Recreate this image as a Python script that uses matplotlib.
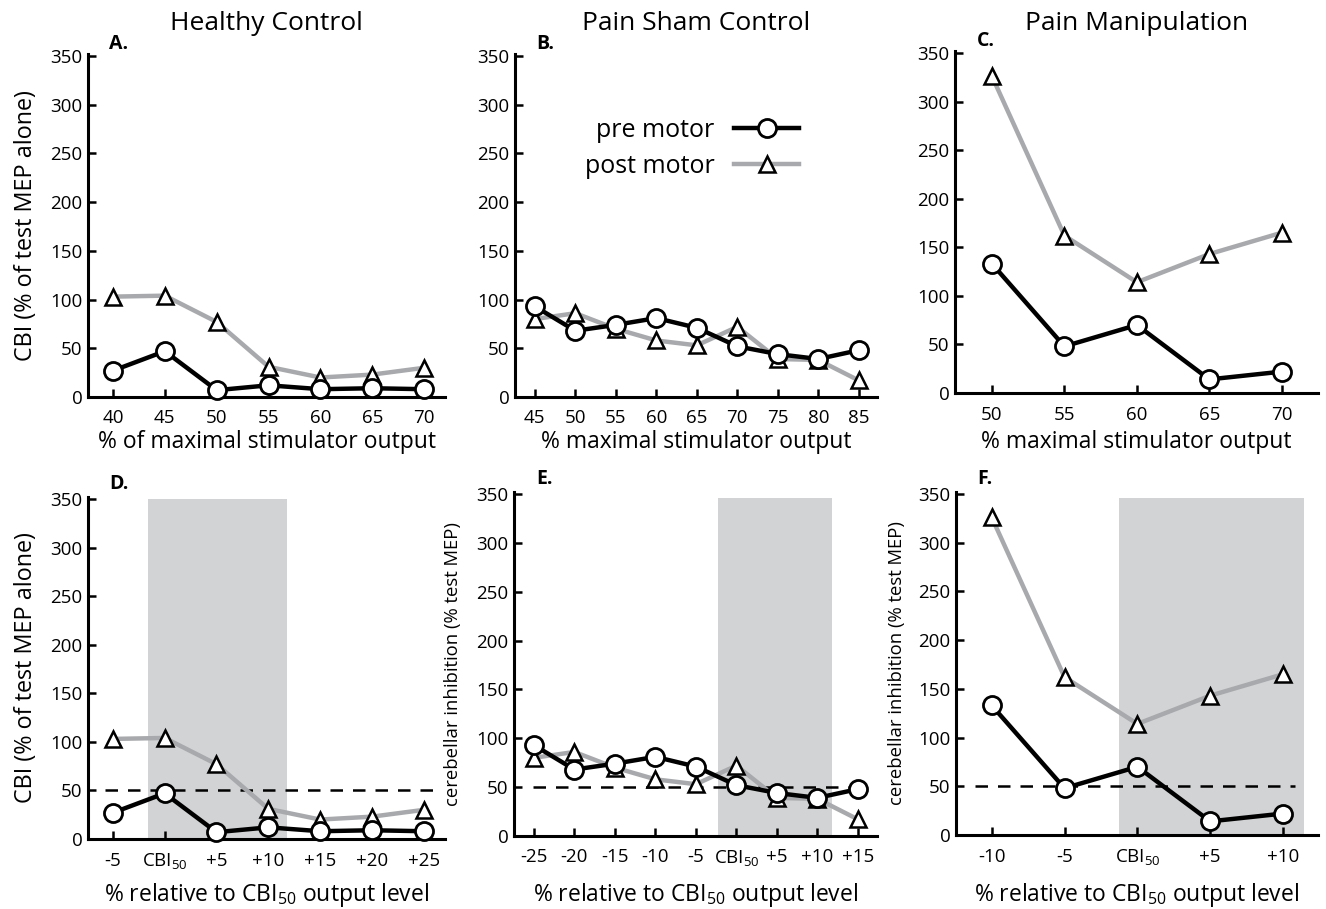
import matplotlib
matplotlib.use('Agg')
import matplotlib.pyplot as plt
from matplotlib.lines import Line2D

plt.rcParams['font.family'] = ['Open Sans', 'DejaVu Sans']
plt.rcParams['mathtext.fontset'] = 'custom'
plt.rcParams['mathtext.rm'] = 'Open Sans'

# ---- data ----
titles = ['Healthy Control', 'Pain Sham Control', 'Pain Manipulation']

hc_x = [40, 45, 50, 55, 60, 65, 70]
hc_pre = [27, 47, 7, 12, 8, 9, 8]
hc_post = [103, 104, 77, 31, 20, 23, 30]

ps_x = [45, 50, 55, 60, 65, 70, 75, 80, 85]
ps_pre = [93, 68, 74, 81, 71, 52, 44, 39, 48]
ps_post = [80, 86, 70, 58, 53, 72, 39, 38, 17]

pm_x = [50, 55, 60, 65, 70]
pm_pre = [133, 48, 70, 14, 22]
pm_post = [326, 162, 114, 143, 165]

hc_rel = ['-5', 'CBI$_{50}$', '+5', '+10', '+15', '+20', '+25']
ps_rel = ['-25', '-20', '-15', '-10', '-5', 'CBI$_{50}$', '+5', '+10', '+15']
pm_rel = ['-10', '-5', 'CBI$_{50}$', '+5', '+10']

# shaded windows and dashed 50% line extents (category index units)
hc_shade = (0.68, 3.36)
ps_shade = (4.54, 7.36)
pm_shade = (1.75, 4.29)
hc_dash = (-0.15, 6.2)
ps_dash = (-0.03, 8.0)
pm_dash = (-0.23, 4.16)
ref_level = 50

BLACK = '#000000'
GREY = '#a7a9ac'
SHADE = '#d1d3d4'

fig = plt.figure(figsize=(13.26, 9.09), dpi=100)

W, H = 1326.0, 909.0
def add_ax(l, r, t, b):
    return fig.add_axes([l / W, 1 - b / H, (r - l) / W, (b - t) / H])

axA = add_ax(88, 445, 54, 397)
axB = add_ax(515, 877, 54, 397)
axC = add_ax(955, 1318, 51, 393)
axD = add_ax(88, 445, 497, 839)
axE = add_ax(514, 877, 492, 836)
axF = add_ax(956, 1318, 492, 835)


def style(ax):
    for s in ['top', 'right']:
        ax.spines[s].set_visible(False)
    for s in ['left', 'bottom']:
        ax.spines[s].set_linewidth(2.2)
    ax.tick_params(direction='in', length=6, width=1.8, labelsize=13.5)
    ax.tick_params(axis='x', pad=9)
    ax.tick_params(axis='y', pad=4)
    ax.set_ylim(0, 352)
    ax.set_yticks(range(0, 351, 50))


def draw(ax, x, pre, post):
    ax.plot(x, post, color=GREY, lw=3.2, marker='^', ms=12, mfc='white',
            mec=BLACK, mew=1.8, zorder=3, clip_on=False)
    ax.plot(x, pre, color=BLACK, lw=3.2, marker='o', ms=13, mfc='white',
            mec=BLACK, mew=2, zorder=4, clip_on=False)


def put_xlabel(ax, text, y_px):
    ax.set_xlabel(text, fontsize=16.5, va='center')
    bbox = ax.get_position()
    ax_bottom = (1 - bbox.y0) * H
    ax.xaxis.set_label_coords(0.5, (ax_bottom - y_px) / (bbox.height * H))


# top row: absolute stimulator output
for ax, x, pre, post, title, lbl, xl in [
        (axA, hc_x, hc_pre, hc_post, titles[0], 'A.', '% of maximal stimulator output'),
        (axB, ps_x, ps_pre, ps_post, titles[1], 'B.', '% maximal stimulator output'),
        (axC, pm_x, pm_pre, pm_post, titles[2], 'C.', '% maximal stimulator output')]:
    style(ax)
    draw(ax, x, pre, post)
    ax.set_xticks(x)
    ax.set_xlim(x[0] - 0.49 * 5, x[-1] + 0.45 * 5)
    put_xlabel(ax, xl, 442)
    bbox = ax.get_position()
    fig.text(bbox.x0 + bbox.width / 2, 1 - 24 / H, title, fontsize=19,
             ha='center', va='center')
    ax.text(0.06, 1.0, lbl, transform=ax.transAxes, fontsize=14,
            fontweight='bold', va='bottom', ha='left')

axA.set_xlim(37.6, 72.0)
axC.set_xlim(47.45, 72.5)
axA.set_ylabel('CBI (% of test MEP alone)', fontsize=16.8, labelpad=9)

# legend in panel B
handles = [Line2D([], [], color=BLACK, lw=3.2, marker='o', ms=13, mfc='white', mec=BLACK, mew=2),
           Line2D([], [], color=GREY, lw=3.2, marker='^', ms=12, mfc='white', mec=BLACK, mew=1.8)]
axB.legend(handles, ['pre motor', 'post motor'], loc='upper left',
           bbox_to_anchor=(0.13, 0.88), frameon=False, markerfirst=False,
           fontsize=18, handlelength=2.6, labelspacing=0.45, handletextpad=0.8)

# bottom row: relative to CBI50
for ax, labels, pre, post, shade, dash, lbl in [
        (axD, hc_rel, hc_pre, hc_post, hc_shade, hc_dash, 'D.'),
        (axE, ps_rel, ps_pre, ps_post, ps_shade, ps_dash, 'E.'),
        (axF, pm_rel, pm_pre, pm_post, pm_shade, pm_dash, 'F.')]:
    style(ax)
    pos = list(range(len(labels)))
    top = 350 if ax is axD else 346
    ax.fill_between(shade, 0, top, color=SHADE, lw=0, zorder=0)
    ax.plot(dash, [ref_level, ref_level], color=BLACK,
            lw=1.8, dashes=(5, 4), zorder=2)
    draw(ax, pos, pre, post)
    ax.set_xticks(pos)
    ax.set_xticklabels(labels)
    put_xlabel(ax, '% relative to CBI$_{50}$ output level', 895)
    ax.text(0.06, 1.01, lbl, transform=ax.transAxes, fontsize=14,
            fontweight='bold', va='bottom', ha='left')

axD.set_xlim(-0.48, 6.41)
axE.set_xlim(-0.49, 8.47)
axF.set_xlim(-0.49, 4.48)
axD.set_ylabel('CBI (% of test MEP alone)', fontsize=16.8, labelpad=9)
axE.set_ylabel('cerebellar inhibition (% test MEP)', fontsize=13.3, labelpad=10)
axF.set_ylabel('cerebellar inhibition (% test MEP)', fontsize=13.3, labelpad=9)

fig.savefig('out.png', dpi=100)
